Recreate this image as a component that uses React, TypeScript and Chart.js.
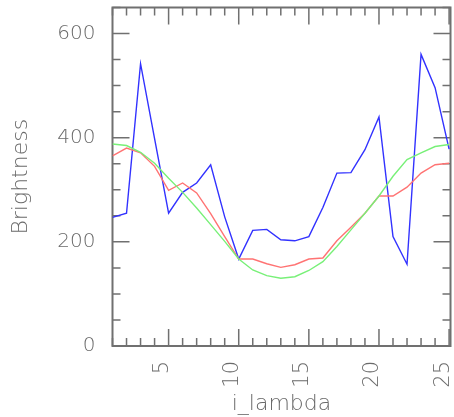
import { useEffect, useRef } from "react";
import { Chart, registerables } from "chart.js";

Chart.register(...registerables);

// Sample index along the x axis
const lambdaIndex = [
  1, 2, 3, 4, 5, 6, 7, 8, 9, 10, 11, 12, 13, 14, 15, 16, 17, 18, 19, 20, 21, 22, 23, 24, 25,
];

// Measured brightness (blue)
const measured = [
  247, 255, 542, 398, 255, 295, 313, 348, 248, 167, 222, 224, 204, 202, 210, 266, 332, 333,
  377, 440, 210, 157, 560, 496, 378,
];

// Smoothed brightness (red)
const smoothed = [
  365, 380, 371, 345, 299, 313, 294, 254, 210, 167, 167, 158, 151, 156, 167, 169, 202, 228,
  255, 288, 288, 305, 332, 348, 351,
];

// Model fit (green)
const model = [
  388, 385, 372, 351, 322, 295, 265, 233, 201, 167, 146, 135, 130, 133, 145, 162, 191, 223,
  255, 288, 326, 358, 371, 383, 387,
];

const xTickValues = [5, 10, 15, 20, 25];
const yTickValues = [0, 200, 400, 600];
const xMinorStep = 1;
const yMinorStep = 50;
const xMajorStep = 5;
const yMajorStep = 200;

const X_MIN = 1;
const X_MAX = 25.1;
const Y_MIN = 0;
const Y_MAX = 650;

const AXIS_GREY = "#707070";
const TEXT_GREY = "#6a6a6a";
const FONT_FAMILY = "'DejaVu Sans', sans-serif";

// Boxed frame with inward-pointing major/minor ticks on all four sides
const frameTicks = {
  id: "frameTicks",
  beforeDatasetsDraw(chart: any) {
    const { ctx, chartArea } = chart;
    const xs = chart.scales.x;
    const ys = chart.scales.y;
    const { left, right, top, bottom } = chartArea;
    ctx.save();
    ctx.strokeStyle = AXIS_GREY;
    ctx.lineWidth = 1.5;

    const majorLen = 17;
    const minorLen = 8;

    ctx.beginPath();
    for (let v = Math.ceil(X_MIN); v <= X_MAX + 1e-9; v += xMinorStep) {
      const px = xs.getPixelForValue(v);
      const len = v % xMajorStep === 0 ? majorLen : minorLen;
      ctx.moveTo(px, bottom);
      ctx.lineTo(px, bottom - len);
      ctx.moveTo(px, top);
      ctx.lineTo(px, top + len);
    }
    for (let v = Y_MIN; v <= Y_MAX + 1e-9; v += yMinorStep) {
      const py = ys.getPixelForValue(v);
      const len = v % yMajorStep === 0 ? majorLen : minorLen;
      ctx.moveTo(left, py);
      ctx.lineTo(left + len, py);
      ctx.moveTo(right, py);
      ctx.lineTo(right - len, py);
    }
    ctx.stroke();

    ctx.lineWidth = 2;
    ctx.strokeRect(left, top, right - left, bottom - top);
    ctx.restore();
  },
};

const noEdgePadding = (scale: any) => {
  scale.paddingLeft = 0;
  scale.paddingRight = 0;
  scale.paddingTop = 0;
  scale.paddingBottom = 0;
};

export default function App() {
  const canvasRef = useRef<HTMLCanvasElement | null>(null);

  useEffect(() => {
    const canvas = canvasRef.current;
    if (!canvas) return;

    const toPoints = (values: number[]) =>
      values.map((y, i) => ({ x: lambdaIndex[i], y }));

    const chart = new Chart(canvas, {
      type: "line",
      data: {
        datasets: [
          {
            label: "model",
            data: toPoints(model),
            borderColor: "rgb(120,240,120)",
            borderWidth: 1.4,
            pointRadius: 0,
            tension: 0,
          },
          {
            label: "smoothed",
            data: toPoints(smoothed),
            borderColor: "rgb(255,115,115)",
            borderWidth: 1.4,
            pointRadius: 0,
            tension: 0,
          },
          {
            label: "measured",
            data: toPoints(measured),
            borderColor: "rgb(50,50,255)",
            borderWidth: 1.4,
            pointRadius: 0,
            tension: 0,
          },
        ],
      },
      options: {
        animation: false,
        responsive: false,
        devicePixelRatio: 1,
        layout: { padding: { top: 7.5, right: 3.5, left: 0, bottom: 0 } },
        plugins: {
          legend: { display: false },
          tooltip: { enabled: false },
        },
        scales: {
          x: {
            type: "linear",
            min: X_MIN,
            max: X_MAX,
            grid: { display: false, drawTicks: false, tickLength: 0 },
            border: { display: false },
            afterBuildTicks: (scale: any) => {
              scale.ticks = xTickValues.map((value) => ({ value }));
            },
            afterFit: (scale: any) => {
              scale.height = 71;
              noEdgePadding(scale);
            },
            ticks: {
              autoSkip: false,
              minRotation: 90,
              maxRotation: 90,
              padding: 15,
              labelOffset: -6,
              color: TEXT_GREY,
              font: { family: FONT_FAMILY, size: 21, weight: 200 as any },
              callback: (v: any) => String(v),
            },
            title: {
              display: true,
              text: "i_lambda",
              color: TEXT_GREY,
              padding: 0,
              font: { family: FONT_FAMILY, size: 22, weight: 200 as any },
            },
          },
          y: {
            type: "linear",
            min: Y_MIN,
            max: Y_MAX,
            grid: { display: false, drawTicks: false, tickLength: 0 },
            border: { display: false },
            afterBuildTicks: (scale: any) => {
              scale.ticks = yTickValues.map((value) => ({ value }));
            },
            afterFit: (scale: any) => {
              scale.width = 112.5;
              noEdgePadding(scale);
            },
            ticks: {
              padding: 17,
              color: TEXT_GREY,
              font: { family: FONT_FAMILY, size: 20, weight: 200 as any },
              callback: (v: any) => String(v),
            },
            title: {
              display: true,
              text: "Brightness",
              color: TEXT_GREY,
              padding: { top: 8, bottom: 0 },
              font: { family: FONT_FAMILY, size: 22, weight: 200 as any },
            },
          },
        },
      },
      plugins: [frameTicks],
    });

    return () => chart.destroy();
  }, []);

  return (
    <div style={{ position: "absolute", left: 0, top: 0, width: 454, height: 417, background: "#fff" }}>
      <canvas ref={canvasRef} width={454} height={417} style={{ display: "block" }} />
    </div>
  );
}
